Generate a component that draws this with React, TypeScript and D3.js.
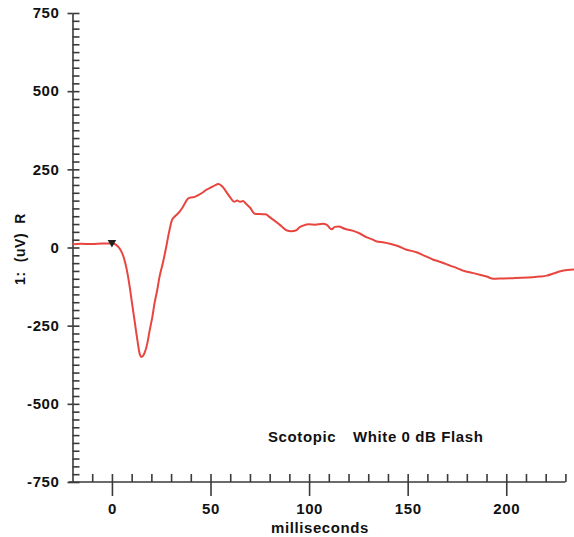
import React, { useEffect, useRef } from 'react';
import * as d3 from 'd3';

// ERG trace
const timeMs = [-20, -16, -10, -5, 0, 2, 4, 6, 7.5, 9, 10, 11.5, 13, 14, 15, 16.5, 18, 19, 20.5, 21.5, 23, 24, 26, 27.5, 29, 30.5, 32, 34, 36, 38.5, 40, 42, 44, 46, 48, 50.5, 52, 54, 56, 58, 60, 62, 63.5, 65, 66.5, 68, 70, 72.5, 75, 78, 80, 83.5, 86, 88.5, 91, 93.5, 95, 97, 100, 103, 107, 109, 111.5, 113, 115, 118, 122, 126, 129, 132, 134, 138, 141, 145, 149.5, 154.5, 158, 163, 167, 171.5, 175, 178, 182, 186.5, 190, 193.5, 198, 203.5, 208, 213.5, 217, 220.5, 224, 227.5, 231, 235];
const amplitude = [10, 12, 11, 13, 13, 9, -4, -32, -70, -125, -170, -235, -300, -338, -350, -338, -305, -270, -222, -182, -135, -98, -45, 1, 50, 88, 100, 112, 130, 156, 160, 162, 168, 176, 185, 193, 198, 203, 195, 178, 160, 146, 150, 146, 149, 140, 128, 108, 107, 106, 97, 81, 68, 55, 52, 55, 64, 70, 74, 73, 76, 72, 58, 66, 67, 60, 54, 44, 33, 26, 20, 16, 12, 5, -7, -15, -25, -39, -47, -58, -66, -74, -80, -87, -93, -100, -99, -98, -97, -95, -93, -90, -83, -76, -72, -70];

const stimTime = 0;
const stimAmp = 13;

const yMajor = [-750, -500, -250, 0, 250, 500, 750];
const xMajor = [0, 50, 100, 150, 200];
const yLabel = '1:  (uV)  R';
const xLabel = 'milliseconds';
const protocolA = 'Scotopic';
const protocolB = 'White 0 dB Flash';

const App = () => {
    const svgRef = useRef();

    useEffect(() => {
        const svg = d3.select(svgRef.current);
        svg.selectAll('*').remove();

        const x = d3.scaleLinear().domain([-20, 230]).range([72.5, 565.4]);
        const y = d3.scaleLinear().domain([-750, 750]).range([482, 13]);
        const font = 'Liberation Sans, Arial, sans-serif';
        const axisColor = '#3a3a3a';

        const xMinor = d3.range(-10, 231, 10).filter((d) => d % 50 !== 0);
        const yMinor = d3.range(-750, 751, 25).filter((d) => d % 250 !== 0);

        const styleText = (sel, size) => sel.attr('fill', '#111').style('font-family', font).style('font-size', size)
            .style('font-weight', 'bold').style('letter-spacing', '0.6px');

        const styleAxis = (g) => {
            g.selectAll('line').attr('stroke', axisColor).attr('stroke-width', 1.6);
            g.selectAll('path').attr('stroke', axisColor).attr('stroke-width', 1.6);
            styleText(g.selectAll('text'), '15px');
        };

        // x axis
        svg.append('g').attr('transform', `translate(0, ${y(-750)})`)
            .call(d3.axisTop(x).tickValues(xMinor.concat(xMajor)).tickSize(8).tickSizeOuter(0).tickFormat(() => ''))
            .call((g) => g.select('.domain').remove()).call(styleAxis);
        svg.append('g').attr('transform', `translate(0, ${y(-750)})`)
            .call(d3.axisBottom(x).tickValues(xMajor).tickSize(14).tickPadding(7).tickSizeOuter(0).tickFormat((d) => String(d)))
            .call((g) => g.select('.domain').attr('d', `M${x(-22)},0H${x(230)}`)).call(styleAxis);

        // y axis
        svg.append('g').attr('transform', `translate(${x(-20)}, 0)`)
            .call(d3.axisRight(y).tickValues(yMinor.concat(yMajor)).tickSize(7).tickSizeOuter(0).tickFormat(() => ''))
            .call((g) => g.select('.domain').remove()).call(styleAxis);
        svg.append('g').attr('transform', `translate(${x(-20)}, 0)`)
            .call(d3.axisLeft(y).tickValues(yMajor).tickSize(5).tickPadding(8).tickSizeOuter(0).tickFormat((d) => String(d)))
            .call(styleAxis);

        // trace
        const line = d3.line().x((d) => x(d[0])).y((d) => y(d[1])).curve(d3.curveMonotoneX);
        svg.append('path').datum(d3.zip(timeMs, amplitude)).attr('d', line)
            .attr('fill', 'none').attr('stroke', '#e8453f').attr('stroke-width', 2).attr('stroke-linejoin', 'round');

        // stimulus marker
        svg.append('path').attr('d', d3.symbol(d3.symbolTriangle, 32)())
            .attr('transform', `translate(${x(stimTime)}, ${y(stimAmp) - 1}) rotate(180)`).attr('fill', '#222');

        // labels
        styleText(svg.append('text').attr('transform', `translate(25, 249) rotate(-90)`).attr('text-anchor', 'middle')
            .style('white-space', 'pre').text(yLabel), '14px');
        styleText(svg.append('text').attr('x', 320).attr('y', 533).attr('text-anchor', 'middle').text(xLabel), '15px');
        styleText(svg.append('text').attr('x', 268).attr('y', 442).text(protocolA), '15px');
        styleText(svg.append('text').attr('x', 353).attr('y', 442).text(protocolB), '15px');
    }, []);

    return <svg ref={svgRef} width={574} height={537} style={{ position: 'absolute', left: 0, top: 0, background: '#fff' }}></svg>;
};

export default App;
